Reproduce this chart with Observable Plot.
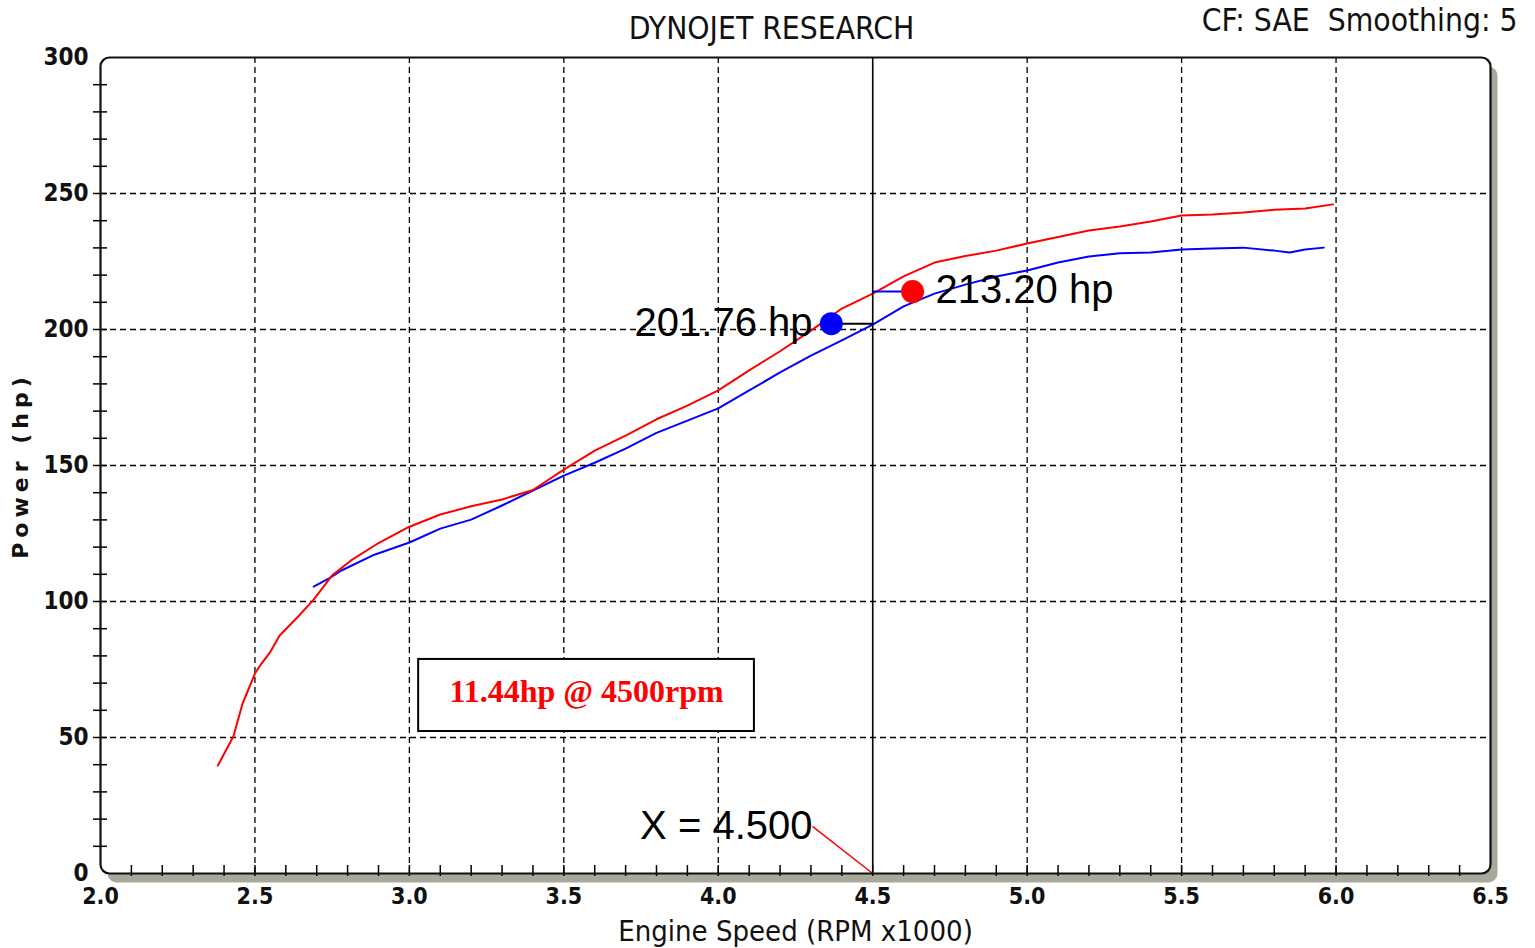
<!DOCTYPE html>
<html><head><meta charset="utf-8">
<script src="https://cdn.jsdelivr.net/npm/d3@7"></script>
<script src="https://cdn.jsdelivr.net/npm/@observablehq/plot@0.6"></script>
<style>
html,body{margin:0;padding:0;background:#fff;}
#chart{position:relative;width:1535px;height:948px;overflow:hidden;}
</style></head><body><div id="chart"></div>
<script>
// ---- data read from the dyno sheet ----
const rpmRed = [2.38, 2.43, 2.46, 2.5, 2.52, 2.55, 2.58, 2.64, 2.69, 2.75, 2.81, 2.9, 3.0, 3.1, 3.2, 3.3, 3.4, 3.5, 3.6, 3.7, 3.8, 3.9, 4.0, 4.1, 4.2, 4.3, 4.4, 4.5, 4.6, 4.7, 4.8, 4.9, 5.0, 5.1, 5.2, 5.3, 5.4, 5.5, 5.6, 5.7, 5.8, 5.9, 5.99];
const hpRed  = [39.7, 50.4, 62.5, 73.5, 77.0, 81.5, 87.5, 94.5, 100.7, 109.6, 115, 121.5, 127.5, 132, 135, 137.5, 141, 148.5, 155.5, 161, 167, 172, 177.6, 185, 192, 199.6, 207.7, 213.2, 219.5, 224.6, 227, 229, 231.6, 234, 236.4, 237.9, 239.7, 241.9, 242.3, 243, 244, 244.5, 246];
const rpmBlue = [2.69, 2.74, 2.78, 2.88, 3.0, 3.1, 3.2, 3.3, 3.4, 3.5, 3.6, 3.7, 3.8, 3.9, 4.0, 4.1, 4.2, 4.3, 4.4, 4.5, 4.6, 4.7, 4.8, 4.9, 5.0, 5.1, 5.2, 5.3, 5.4, 5.5, 5.6, 5.7, 5.8, 5.85, 5.9, 5.96];
const hpBlue  = [105.5, 108.5, 111.4, 116.9, 121.7, 126.8, 130.1, 135.3, 140.8, 146.3, 151, 156.2, 162, 166.5, 171, 177.6, 184.2, 190.4, 196, 201.76, 208.5, 213.2, 216.5, 219.5, 221.7, 224.6, 226.8, 228, 228.3, 229.4, 229.8, 230.1, 229, 228.3, 229.4, 230.1];

const xTicks = [2.0, 2.5, 3.0, 3.5, 4.0, 4.5, 5.0, 5.5, 6.0, 6.5];
const yTicks = [0, 50, 100, 150, 200, 250, 300];
const xGrid = [2.5, 3.0, 3.5, 4.0, 5.0, 5.5, 6.0];
const yGrid = [50, 100, 150, 200, 250];
const xMinor = d3.range(21, 65).map(d => d / 10);
const yMinor = d3.range(10, 300, 10);

const cursorRpm = [4.5];
const readoutRed  = [{rpm: 4.629, hp: 213.20, label: "213.20 hp", labelRpm: 4.703}];
const readoutBlue = [{rpm: 4.366, hp: 201.76, label: "201.76 hp", labelRpm: 4.305}];
const cursorLabel = [{rpm: 4.305, hp: 17.3, label: "X = 4.500"}];
const diffBox = [{rpm1: 3.03, rpm2: 4.117, hp1: 52.2, hp2: 78.7, label: "11.44hp @ 4500rpm"}];

const title = ["DYNOJET RESEARCH"];
const subtitle = ["CF: SAE  Smoothing: 5"];
const xLabel = ["Engine Speed (RPM x1000)"];
const yLabel = ["Power (hp)"];

// ---- build ----
const red = rpmRed.map((x, i) => ({rpm: x, hp: hpRed[i]}));
const blue = rpmBlue.map((x, i) => ({rpm: x, hp: hpBlue[i]}));

const W = 1535, H = 948, ML = 100, MR = 45, MT = 57, MB = 75;
const FW = W - ML - MR, FH = H - MT - MB;
const cond = "'DejaVu Sans Condensed', 'DejaVu Sans', sans-serif";
const sans = "'Liberation Sans', Arial, sans-serif";
const serif = "'Liberation Serif', 'Times New Roman', serif";

const plot = Plot.plot({
  width: W, height: H,
  marginLeft: ML, marginRight: MR, marginTop: MT, marginBottom: MB,
  x: {domain: [2, 6.5]},
  y: {domain: [0, 300]},
  style: {fontFamily: cond, background: "white", overflow: "visible"},
  marks: [
    Plot.frame({fill: "#a9a99b", stroke: null, rx: 9, dx: 7, dy: 9}),
    Plot.frame({fill: "white", stroke: null, rx: 9}),
    Plot.ruleX(xGrid, {stroke: "black", strokeWidth: 1.3, strokeDasharray: "6,4"}),
    Plot.ruleY(yGrid, {stroke: "black", strokeWidth: 1.3, strokeDasharray: "6,4"}),
    Plot.tickY(yMinor, {y: d => d, stroke: "black", strokeWidth: 1.5, insetRight: FW - 14, dx: -7}),
    Plot.tickX(xMinor, {x: d => d, stroke: "black", strokeWidth: 1.5, insetTop: FH - 11, dy: 3}),
    Plot.axisY({ticks: yTicks, tickSize: 0, tickPadding: 12, fontSize: 24, fontWeight: "bold", fontFamily: cond, label: null, fill: "#111"}),
    Plot.axisX({ticks: xTicks, tickSize: 0, tickPadding: 14, fontSize: 23, fontWeight: "bold", fontFamily: cond, label: null, tickFormat: d3.format(".1f"), fill: "#111"}),
    Plot.rect(diffBox, {x1: "rpm1", x2: "rpm2", y1: "hp1", y2: "hp2", fill: "white", stroke: "black", strokeWidth: 2}),
    Plot.text(diffBox, {x: d => (d.rpm1 + d.rpm2) / 2, y: d => (d.hp1 + d.hp2) / 2, dy: -4, text: "label", fill: "#ff0000", fontFamily: serif, fontWeight: "bold", fontSize: 32}),
    Plot.line(blue, {x: "rpm", y: "hp", stroke: "#0000ff", strokeWidth: 2}),
    Plot.line(red, {x: "rpm", y: "hp", stroke: "#ff0000", strokeWidth: 2}),
    Plot.ruleX(cursorRpm, {stroke: "black", strokeWidth: 1.6}),
    Plot.link(readoutBlue, {x1: "rpm", x2: () => cursorRpm[0], y1: "hp", y2: "hp", dy: -1, stroke: "black", strokeWidth: 2}),
    Plot.link(readoutRed, {x1: () => cursorRpm[0], x2: "rpm", y1: "hp", y2: "hp", dy: -2, stroke: "#0000ff", strokeWidth: 2}),
    Plot.link(cursorLabel, {x1: "rpm", y1: "hp", x2: () => cursorRpm[0], y2: () => 0, stroke: "#ff0000", strokeWidth: 1.5}),
    Plot.dot(readoutBlue, {x: "rpm", y: "hp", dy: -1, r: 11.5, fill: "#0000ff"}),
    Plot.dot(readoutRed, {x: "rpm", y: "hp", dy: -2, r: 11.5, fill: "#ff0000"}),
    Plot.text(readoutBlue, {x: "labelRpm", y: "hp", dy: -2, text: "label", textAnchor: "end", fontFamily: sans, fontSize: 40, fill: "black"}),
    Plot.text(readoutRed, {x: "labelRpm", y: "hp", dy: -3, text: "label", textAnchor: "start", fontFamily: sans, fontSize: 40, fill: "black"}),
    Plot.text(cursorLabel, {x: "rpm", y: "hp", text: "label", textAnchor: "end", fontFamily: sans, fontSize: 40, fill: "black"}),
    Plot.frame({stroke: "#111", strokeWidth: 2.2, rx: 9}),
    Plot.text(title, {frameAnchor: "top", lineAnchor: "middle", dx: -24, dy: -29, fontSize: 31.5, fontFamily: cond, fill: "#111"}),
    Plot.text(subtitle, {frameAnchor: "top-right", lineAnchor: "middle", textAnchor: "end", dx: 27, dy: -37, fontSize: 31.5, fontFamily: cond, fill: "#111"}),
    Plot.text(xLabel, {frameAnchor: "bottom", lineAnchor: "middle", dy: 58, fontSize: 29, fontFamily: cond, fill: "#111"}),
    Plot.text(yLabel, {frameAnchor: "left", lineAnchor: "middle", textAnchor: "middle", rotate: -90, dx: -80, fontSize: 22, fontWeight: "bold", fontFamily: "'DejaVu Sans', sans-serif", fill: "#111"})
  ]
});
d3.select(plot).selectAll("text").filter(function() { return this.textContent === yLabel[0]; })
  .style("letter-spacing", "5px");
document.getElementById("chart").appendChild(plot);
</script></body></html>
